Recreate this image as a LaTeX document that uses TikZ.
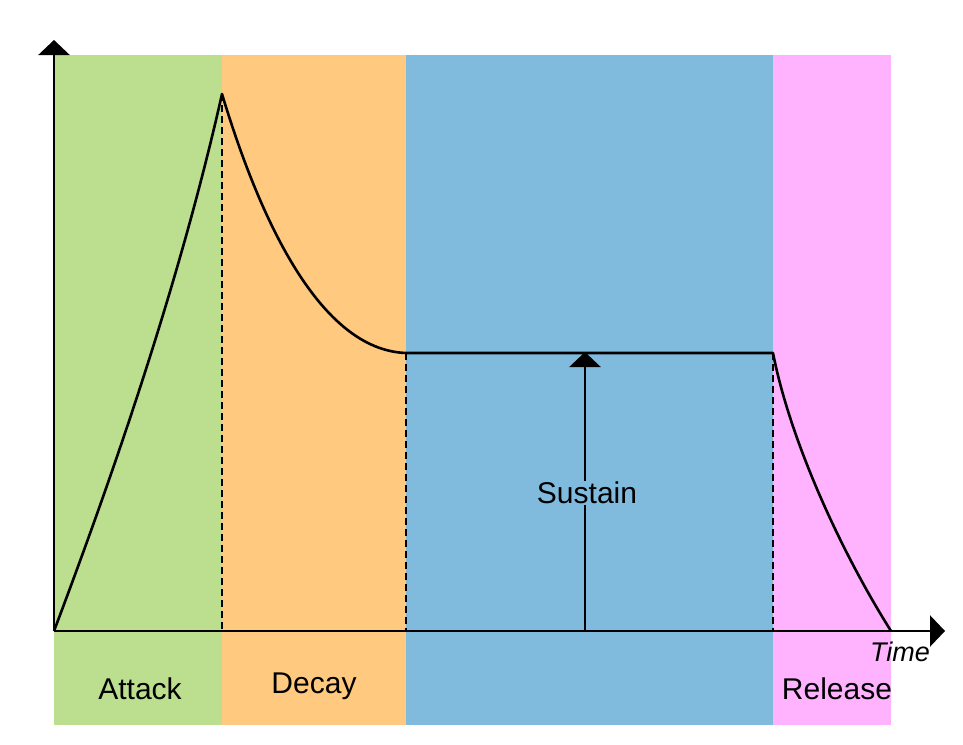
\documentclass[tikz,border=0pt]{standalone}
\usepackage{fontspec}
\setmainfont{Liberation Sans}
\usetikzlibrary{arrows.meta}
\definecolor{attackc}{RGB}{187,222,143}
\definecolor{decayc}{RGB}{255,201,128}
\definecolor{sustainc}{RGB}{128,187,221}
\definecolor{releasec}{RGB}{255,179,255}
\tikzset{
  curve/.style={line width=2.6pt, line join=round},
  axisline/.style={line width=2.6pt, -{Triangle[length=15pt,width=31pt]}},
  guide/.style={line width=1.6pt, dash pattern=on 7pt off 4pt},
  lbl/.style={font=\fontsize{30}{33}\selectfont, inner sep=1pt},
}
\begin{document}
\begin{tikzpicture}[x=1pt,y=-1pt]
\useasboundingbox (0,0) rectangle (963,744);
% bands
\fill[attackc]  (54,55) rectangle (222,725);
\fill[decayc]   (222,55) rectangle (406,725);
\fill[sustainc] (406,55) rectangle (773,725);
\fill[releasec] (773,55) rectangle (891,725);
% key points
\coordinate (O) at (54,631);
\coordinate (Ytop) at (54,40);
\coordinate (Xend) at (945,631);
\coordinate (P) at (222,94);
\coordinate (S1) at (406,353);
\coordinate (S2) at (773,353);
\coordinate (E) at (891,631);
\coordinate (Pb) at (222,631);
\coordinate (S1b) at (406,631);
\coordinate (S2b) at (773,631);
\coordinate (Ab) at (585,631);
\coordinate (At) at (585,352);
% guides
\draw[guide] (P) -- (Pb);
\draw[guide] (S1) -- (S1b);
\draw[guide] (S2) -- (S2b);
% axes
\draw[axisline] (O) -- (Ytop);
\draw[axisline] (O) -- (Xend);
% envelope
\draw[curve] (O) .. controls (108,488) and (178,290) .. (P)
  .. controls (260,220) and (320,350) .. (S1) -- (S2)
  .. controls (790,440) and (840,550) .. (E);
% sustain arrow
\draw[axisline] (Ab) -- (At);
\node[lbl, fill=sustainc] (sus) at (587,493) {Sustain};
% labels
\node[lbl] (att) at (140,689) {Attack};
\node[lbl] (dec) at (314,686) {Decay};
\node[lbl] (rel) at (837,689) {Release};
\node[font=\fontsize{27}{30}\selectfont\itshape, inner sep=0pt] (time) at (900,652) {Time};
\end{tikzpicture}
\end{document}
